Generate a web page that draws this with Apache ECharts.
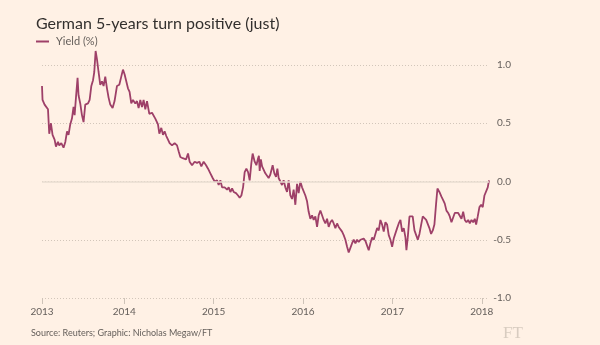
<!DOCTYPE html>
<html>
<head>
<meta charset="utf-8">
<script src="https://cdn.jsdelivr.net/npm/echarts@6/dist/echarts.min.js"></script>
<style>
html,body{margin:0;padding:0;background:#FFF1E5;}
#c{width:600px;height:345px;}
</style>
</head>
<body>
<div id="c"></div>
<script>
// Decimal-year dates and German 5-year yield (%)
const dates = [
2013.079,2013.085,2013.108,2013.127,2013.146,2013.160,2013.179,2013.197,2013.220,2013.235,
2013.258,2013.272,2013.295,2013.320,2013.340,2013.359,2013.376,2013.395,2013.414,2013.432,
2013.444,2013.459,2013.477,2013.488,2013.507,2013.526,2013.544,2013.563,2013.594,2013.612,
2013.631,2013.650,2013.664,2013.679,2013.694,2013.712,2013.731,2013.750,2013.768,2013.787,
2013.806,2013.824,2013.843,2013.869,2013.891,2013.918,2013.944,2013.966,2013.985,2014.003,
2014.022,2014.041,2014.059,2014.078,2014.097,2014.123,2014.142,2014.160,2014.179,2014.198,
2014.216,2014.235,2014.254,2014.280,2014.310,2014.347,2014.377,2014.392,2014.414,2014.433,
2014.451,2014.470,2014.489,2014.507,2014.534,2014.563,2014.590,2014.608,2014.627,2014.653,
2014.675,2014.691,2014.713,2014.731,2014.758,2014.787,2014.814,2014.840,2014.862,2014.888,
2014.915,2014.937,2014.963,2014.989,2015.011,2015.038,2015.056,2015.075,2015.094,2015.123,
2015.150,2015.168,2015.187,2015.206,2015.224,2015.250,2015.273,2015.291,2015.310,2015.329,
2015.347,2015.366,2015.385,2015.403,2015.422,2015.436,2015.459,2015.478,2015.497,2015.506,
2015.515,2015.528,2015.542,2015.559,2015.578,2015.597,2015.615,2015.634,2015.660,2015.679,
2015.698,2015.713,2015.727,2015.746,2015.765,2015.783,2015.802,2015.821,2015.839,2015.858,
2015.877,2015.895,2015.914,2015.933,2015.951,2015.970,2015.989,2016.007,2016.026,2016.045,
2016.063,2016.082,2016.101,2016.119,2016.138,2016.157,2016.175,2016.194,2016.213,2016.231,
2016.250,2016.269,2016.287,2016.306,2016.325,2016.343,2016.362,2016.381,2016.399,2016.418,
2016.437,2016.455,2016.474,2016.493,2016.511,2016.530,2016.549,2016.567,2016.586,2016.605,
2016.623,2016.642,2016.661,2016.679,2016.698,2016.717,2016.735,2016.754,2016.773,2016.791,
2016.810,2016.829,2016.847,2016.866,2016.885,2016.903,2016.922,2016.941,2016.959,2016.978,
2016.997,2017.015,2017.034,2017.053,2017.071,2017.090,2017.109,2017.127,2017.146,2017.157,
2017.172,2017.191,2017.210,2017.227,2017.247,2017.266,2017.284,2017.303,2017.322,2017.340,
2017.359,2017.378,2017.396,2017.414,2017.433,2017.452,2017.470,2017.489,2017.504,2017.526,
2017.549,2017.568,2017.586,2017.605,2017.624,2017.642,2017.661,2017.680,2017.698,2017.717,
2017.736,2017.754,2017.773,2017.792,2017.810,2017.829,2017.848,2017.866,2017.885,2017.904,
2017.922,2017.937,2017.955,2017.974,2017.993,2018.011,2018.030,2018.049,2018.067,2018.081
];
const yields = [
0.82,0.70,0.66,0.67,0.62,0.41,0.50,0.40,0.36,0.30,
0.34,0.31,0.33,0.29,0.34,0.43,0.40,0.49,0.54,0.64,
0.57,0.72,0.89,0.74,0.67,0.57,0.51,0.66,0.67,0.70,
0.82,0.87,0.94,1.12,1.05,0.94,0.83,0.86,0.82,0.90,
0.80,0.72,0.66,0.63,0.69,0.82,0.83,0.90,0.96,0.92,
0.86,0.80,0.77,0.67,0.70,0.67,0.69,0.63,0.70,0.64,
0.70,0.62,0.69,0.58,0.59,0.54,0.49,0.41,0.46,0.40,
0.43,0.39,0.36,0.33,0.31,0.33,0.31,0.26,0.21,0.20,
0.21,0.19,0.24,0.17,0.14,0.17,0.16,0.17,0.13,0.17,
0.14,0.11,0.07,0.03,0.00,0.01,-0.03,0.01,-0.05,-0.05,
-0.07,-0.05,-0.09,-0.06,-0.09,-0.10,-0.12,-0.14,-0.12,-0.05,
0.08,0.11,0.08,0.01,0.16,0.24,0.17,0.14,0.20,0.22,
0.09,0.19,0.13,0.14,0.07,0.06,0.03,0.06,0.14,0.07,
0.04,0.11,0.03,0.00,-0.03,0.01,-0.05,-0.09,0.01,-0.12,
-0.15,-0.07,-0.20,-0.02,-0.10,0.00,-0.05,-0.05,-0.12,-0.17,
-0.26,-0.32,-0.29,-0.33,-0.30,-0.39,-0.29,-0.25,-0.29,-0.33,
-0.36,-0.32,-0.39,-0.35,-0.33,-0.36,-0.40,-0.36,-0.39,-0.40,
-0.43,-0.46,-0.50,-0.56,-0.61,-0.57,-0.53,-0.50,-0.53,-0.50,
-0.52,-0.50,-0.50,-0.49,-0.51,-0.50,-0.59,-0.53,-0.48,-0.50,
-0.49,-0.40,-0.42,-0.33,-0.37,-0.43,-0.35,-0.37,-0.46,-0.50,
-0.56,-0.49,-0.48,-0.40,-0.36,-0.33,-0.43,-0.40,-0.48,-0.59,
-0.48,-0.30,-0.29,-0.30,-0.42,-0.46,-0.50,-0.45,-0.37,-0.30,
-0.29,-0.33,-0.32,-0.40,-0.45,-0.42,-0.37,-0.19,-0.06,-0.09,
-0.13,-0.16,-0.19,-0.25,-0.27,-0.30,-0.35,-0.36,-0.27,-0.26,
-0.27,-0.26,-0.32,-0.26,-0.33,-0.35,-0.33,-0.36,-0.33,-0.35,
-0.32,-0.37,-0.30,-0.22,-0.20,-0.22,-0.12,-0.13,-0.05,0.01
];
const xTicks = [2013.079, 2014, 2015, 2016, 2017, 2018];
const yTicks = [-1.0, -0.5, 0.0, 0.5, 1.0];
const titleText = 'German 5-years turn positive (just)';
const seriesName = 'Yield (%)';
const sourceText = 'Source: Reuters; Graphic: Nicholas Megaw/FT';

const seriesData = dates.map((d, i) => [d, yields[i]]);
const FONT = 'Lato';
const LABEL = '#66605C';

const chart = echarts.init(document.getElementById('c'), null, {renderer: 'canvas'});
chart.setOption({
  backgroundColor: '#FFF1E5',
  animation: false,
  textStyle: {fontFamily: FONT},
  title: {
    text: titleText,
    left: 31, top: 11,
    textStyle: {fontFamily: FONT, fontSize: 16, fontWeight: 'normal', color: '#33302E'}
  },
  legend: {
    left: 31, top: 31,
    icon: 'rect', itemWidth: 13, itemHeight: 2,
    data: [seriesName],
    textStyle: {fontFamily: FONT, fontSize: 11, color: LABEL, padding: [0,0,0,2]}
  },
  grid: {left: 42, right: 111, top: 65, bottom: 47, containLabel: false},
  xAxis: {
    type: 'value',
    min: xTicks[0], max: dates[dates.length - 1],
    axisLine: {show: false, onZero: false},
    splitLine: {show: false},
    axisTick: {show: true, customValues: xTicks, length: 6, lineStyle: {color: '#CEC3B8', width: 1}},
    axisLabel: {
      customValues: xTicks, margin: 9,
      fontFamily: FONT, fontSize: 10, color: LABEL,
      formatter: v => String(Math.floor(v))
    }
  },
  yAxis: {
    type: 'value', position: 'right',
    min: yTicks[0], max: yTicks[yTicks.length - 1], interval: 0.5,
    axisLine: {show: false}, axisTick: {show: false},
    splitLine: {show: true, lineStyle: {type: [1, 2], color: '#D2C6BA', width: 1}},
    axisLabel: {
      margin: 22, align: 'right',
      fontFamily: FONT, fontSize: 10, color: LABEL,
      formatter: v => v.toFixed(1)
    }
  },
  series: [
    {
      name: 'zero', type: 'line', data: [], z: 1, silent: true,
      markLine: {
        silent: true, symbol: ['none', 'none'], label: {show: false},
        lineStyle: {type: 'solid', color: '#E9DCD0', width: 1.5},
        data: [{yAxis: 0}]
      }
    },
    {
      name: seriesName, type: 'line', data: seriesData, z: 3, clip: false,
      showSymbol: false, symbol: 'none',
      lineStyle: {color: '#9E4068', width: 1.8},
      itemStyle: {color: '#9E4068'}
    }
  ],
  graphic: [
    {type: 'text', left: 31, top: 329,
     style: {text: sourceText, fontFamily: FONT, fontSize: 9, fill: LABEL}},
    {type: 'text', left: 503, top: 325,
     style: {text: 'FT', fontFamily: 'Liberation Serif', fontSize: 17, fill: '#D8CCC0'}}
  ]
});
</script>
</body>
</html>
